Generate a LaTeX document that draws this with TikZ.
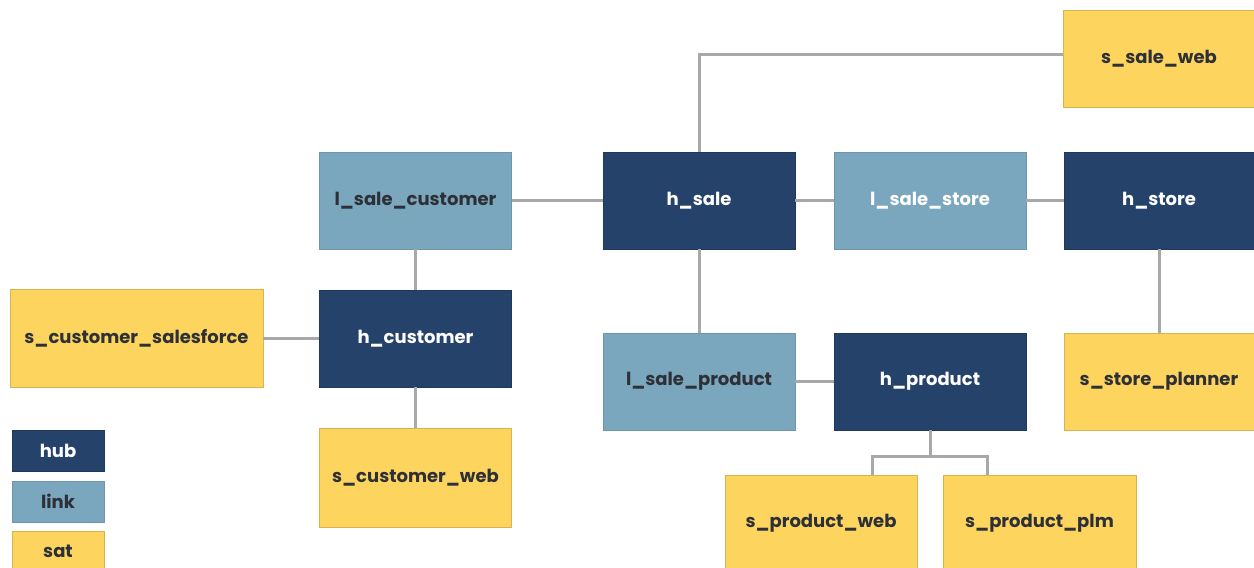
\documentclass[tikz,border=0pt]{standalone}
\usepackage{fontspec}
\setmainfont{Poppins}
\definecolor{hubblue}{HTML}{25436A}
\definecolor{linkblue}{HTML}{7AA6BE}
\definecolor{satyellow}{HTML}{FCD45E}
\definecolor{conngray}{HTML}{A8A8A8}
\definecolor{darktext}{HTML}{2E3038}
\begin{document}
\begin{tikzpicture}[x=1pt,y=-1pt,
  box/.style={minimum width=192pt, minimum height=97pt, inner sep=0pt,
    font=\fontsize{18}{21}\selectfont\bfseries},
  hub/.style={box, fill=hubblue, draw=hubblue!85!black, text=white},
  link/.style={box, fill=linkblue, draw=linkblue!90!black, text=darktext},
  sat/.style={box, fill=satyellow, draw=satyellow!85!black, text=darktext},
  key/.style={minimum width=92pt, minimum height=41pt},
  conn/.style={draw=conngray, line width=3pt}]
\useasboundingbox[fill=white] (0,0) rectangle (1254,568);
\node[sat] (ssaleweb) at (1159,59) {s\_sale\_web};
\node[link] (lsalecustomer) at (415.5,200.5) {l\_sale\_customer};
\node[hub] (hsale) at (699,200.5) {h\_sale};
\node[link, text=white] (lsalestore) at (930,200.5) {l\_sale\_store};
\node[hub, minimum width=190pt] (hstore) at (1159,200.5) {h\_store};
\node[sat, minimum width=253pt, minimum height=98pt] (scustsf) at (136.5,338.5) {s\_customer\_salesforce};
\node[hub] (hcustomer) at (415.5,338.5) {h\_customer};
\node[link] (lsaleproduct) at (699,381.5) {l\_sale\_product};
\node[hub] (hproduct) at (930,381.5) {h\_product};
\node[sat, minimum width=190pt] (sstoreplanner) at (1159,381.5) {s\_store\_planner};
\node[sat, minimum height=99pt] (scustweb) at (415.5,477.5) {s\_customer\_web};
\node[sat] (sproductweb) at (821,523.5) {s\_product\_web};
\node[sat, minimum width=193pt] (sproductplm) at (1039.5,523.5) {s\_product\_plm};
% legend
\node[hub, key] (keyhub) at (58,450.5) {hub};
\node[link, key] (keylink) at (58,501.5) {link};
\node[sat, key] (keysat) at (58,551.5) {sat};
% connectors
\draw[conn] (hsale.north) |- ([yshift=5pt]ssaleweb.west);
\draw[conn] (lsalecustomer) -- (hsale);
\draw[conn] (hsale) -- (lsalestore);
\draw[conn] (lsalestore) -- (hstore);
\draw[conn] (lsalecustomer) -- (hcustomer);
\draw[conn] (scustsf) -- (hcustomer);
\draw[conn] (hcustomer) -- (scustweb);
\draw[conn] (hsale) -- (lsaleproduct);
\draw[conn] (lsaleproduct) -- (hproduct);
\draw[conn] (hstore) -- (sstoreplanner);
\coordinate (fork) at (930,456);
\draw[conn] (hproduct) -- (fork);
\draw[conn] (fork) -| ([xshift=51pt]sproductweb.north);
\draw[conn] (fork) -| ([xshift=-52pt]sproductplm.north);
\end{tikzpicture}
\end{document}
